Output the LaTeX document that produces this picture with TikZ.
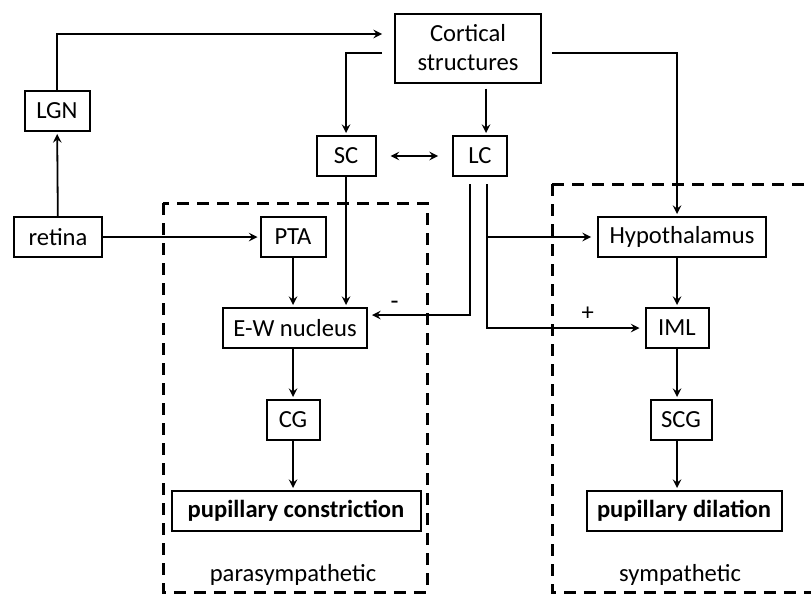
\documentclass[tikz,border=0pt]{standalone}
\usepackage{fontspec}
\setmainfont{Carlito}
\usetikzlibrary{calc}

\tikzset{
  blk/.style={draw,line width=1pt,minimum height=20pt,inner sep=2pt,font=\fontsize{12.3}{14.5}\selectfont,align=center},
  lnk/.style={->,line width=0.9pt,shorten >=1pt},
  grp/.style={line width=1.5pt,dash pattern=on 6pt off 4pt},
  grplabel/.style={font=\fontsize{12.3}{14.5}\selectfont}
}

\begin{document}
\begin{tikzpicture}[>=stealth,x=0.5pt,y=-0.5pt]
  \clip (0,0) rectangle (811,594);
  % groups
  \draw[grp] (163,203) rectangle (427,592);
  \draw[grp] (552,184) rectangle (840,592);
  \node[grplabel] (para) at (293,575) {parasympathetic};
  \node[grplabel] (symp) at (680,575) {sympathetic};
  % nodes
  \node[blk,minimum width=73pt,minimum height=34.5pt] (cort) at (468,48) {Cortical\\structures};
  \node[blk,minimum width=32.5pt] (lgn) at (57,111) {LGN};
  \node[blk,minimum width=44pt] (retina) at (58,237) {retina};
  \node[blk,minimum width=29.5pt] (sc) at (346,156) {SC};
  \node[blk,minimum width=27pt] (lc) at (480,156) {LC};
  \node[blk,minimum width=32.5pt] (pta) at (293,237) {PTA};
  \node[blk,minimum width=72pt] (ew) at (295,328) {E-W nucleus};
  \node[blk,minimum width=26.5pt] (cg) at (293,420) {CG};
  \node[blk,minimum width=124.5pt] (con) at (296,511) {\textbf{pupillary constriction}};
  \node[blk,minimum width=84pt] (hypo) at (682,237) {Hypothalamus};
  \node[blk,minimum width=31.5pt] (iml) at (677,328) {IML};
  \node[blk,minimum width=30.5pt] (scg) at (681,420) {SCG};
  \node[blk,minimum width=97.5pt] (dil) at (684,511) {\textbf{pupillary dilation}};
  \coordinate (lcl) at ([xshift=-5pt]lc.south);
  \coordinate (lcr) at ([xshift=3.5pt]lc.south);
  % connections
  \draw[lnk] (retina) -- (lgn);
  \draw[lnk,shorten >=6pt] (lgn.north) |- ([yshift=7pt]cort.west);
  \draw[lnk,shorten <=6pt] ([yshift=-2.5pt]cort.west) -| (sc.north);
  \draw[lnk,shorten <=5pt] ([yshift=-2.5pt]cort.east) -| ([xshift=-2.5pt]hypo.north);
  \draw[lnk,shorten <=2.5pt] ([xshift=9pt]cort.south) -- ([xshift=3pt]lc.north);
  \draw[<->,line width=0.9pt,shorten <=7pt,shorten >=7pt] (sc) -- (lc);
  \draw[lnk] (retina) -- (pta);
  \draw[lnk] (pta.south) -- (pta.south |- ew.north);
  \draw[lnk] (sc.south) -- (sc.south |- ew.north);
  \draw[lnk,shorten <=3.5pt,shorten >=2pt] (lcl) |- ([yshift=6.5pt]ew.east) node[pos=0.87,above=-1pt,font=\fontsize{13}{14.5}\selectfont] {-};
  \draw[lnk,shorten <=3.5pt,shorten >=2.5pt] (lcr) |- (iml.west) node[pos=0.82,above=0pt,font=\fontsize{12.3}{14.5}\selectfont] {+};
  \draw[lnk,shorten >=3pt] (lcr |- hypo.west) -- (hypo.west);
  \draw[lnk] (iml.north |- hypo.south) -- (iml.north);
  \draw[lnk] (iml.south) -- (iml.south |- scg.north);
  \draw[lnk] (iml.south |- scg.south) -- (iml.south |- dil.north);
  \draw[lnk] (cg.north |- ew.south) -- (cg.north);
  \draw[lnk] (cg.south) -- (cg.south |- con.north);
\end{tikzpicture}
\end{document}
